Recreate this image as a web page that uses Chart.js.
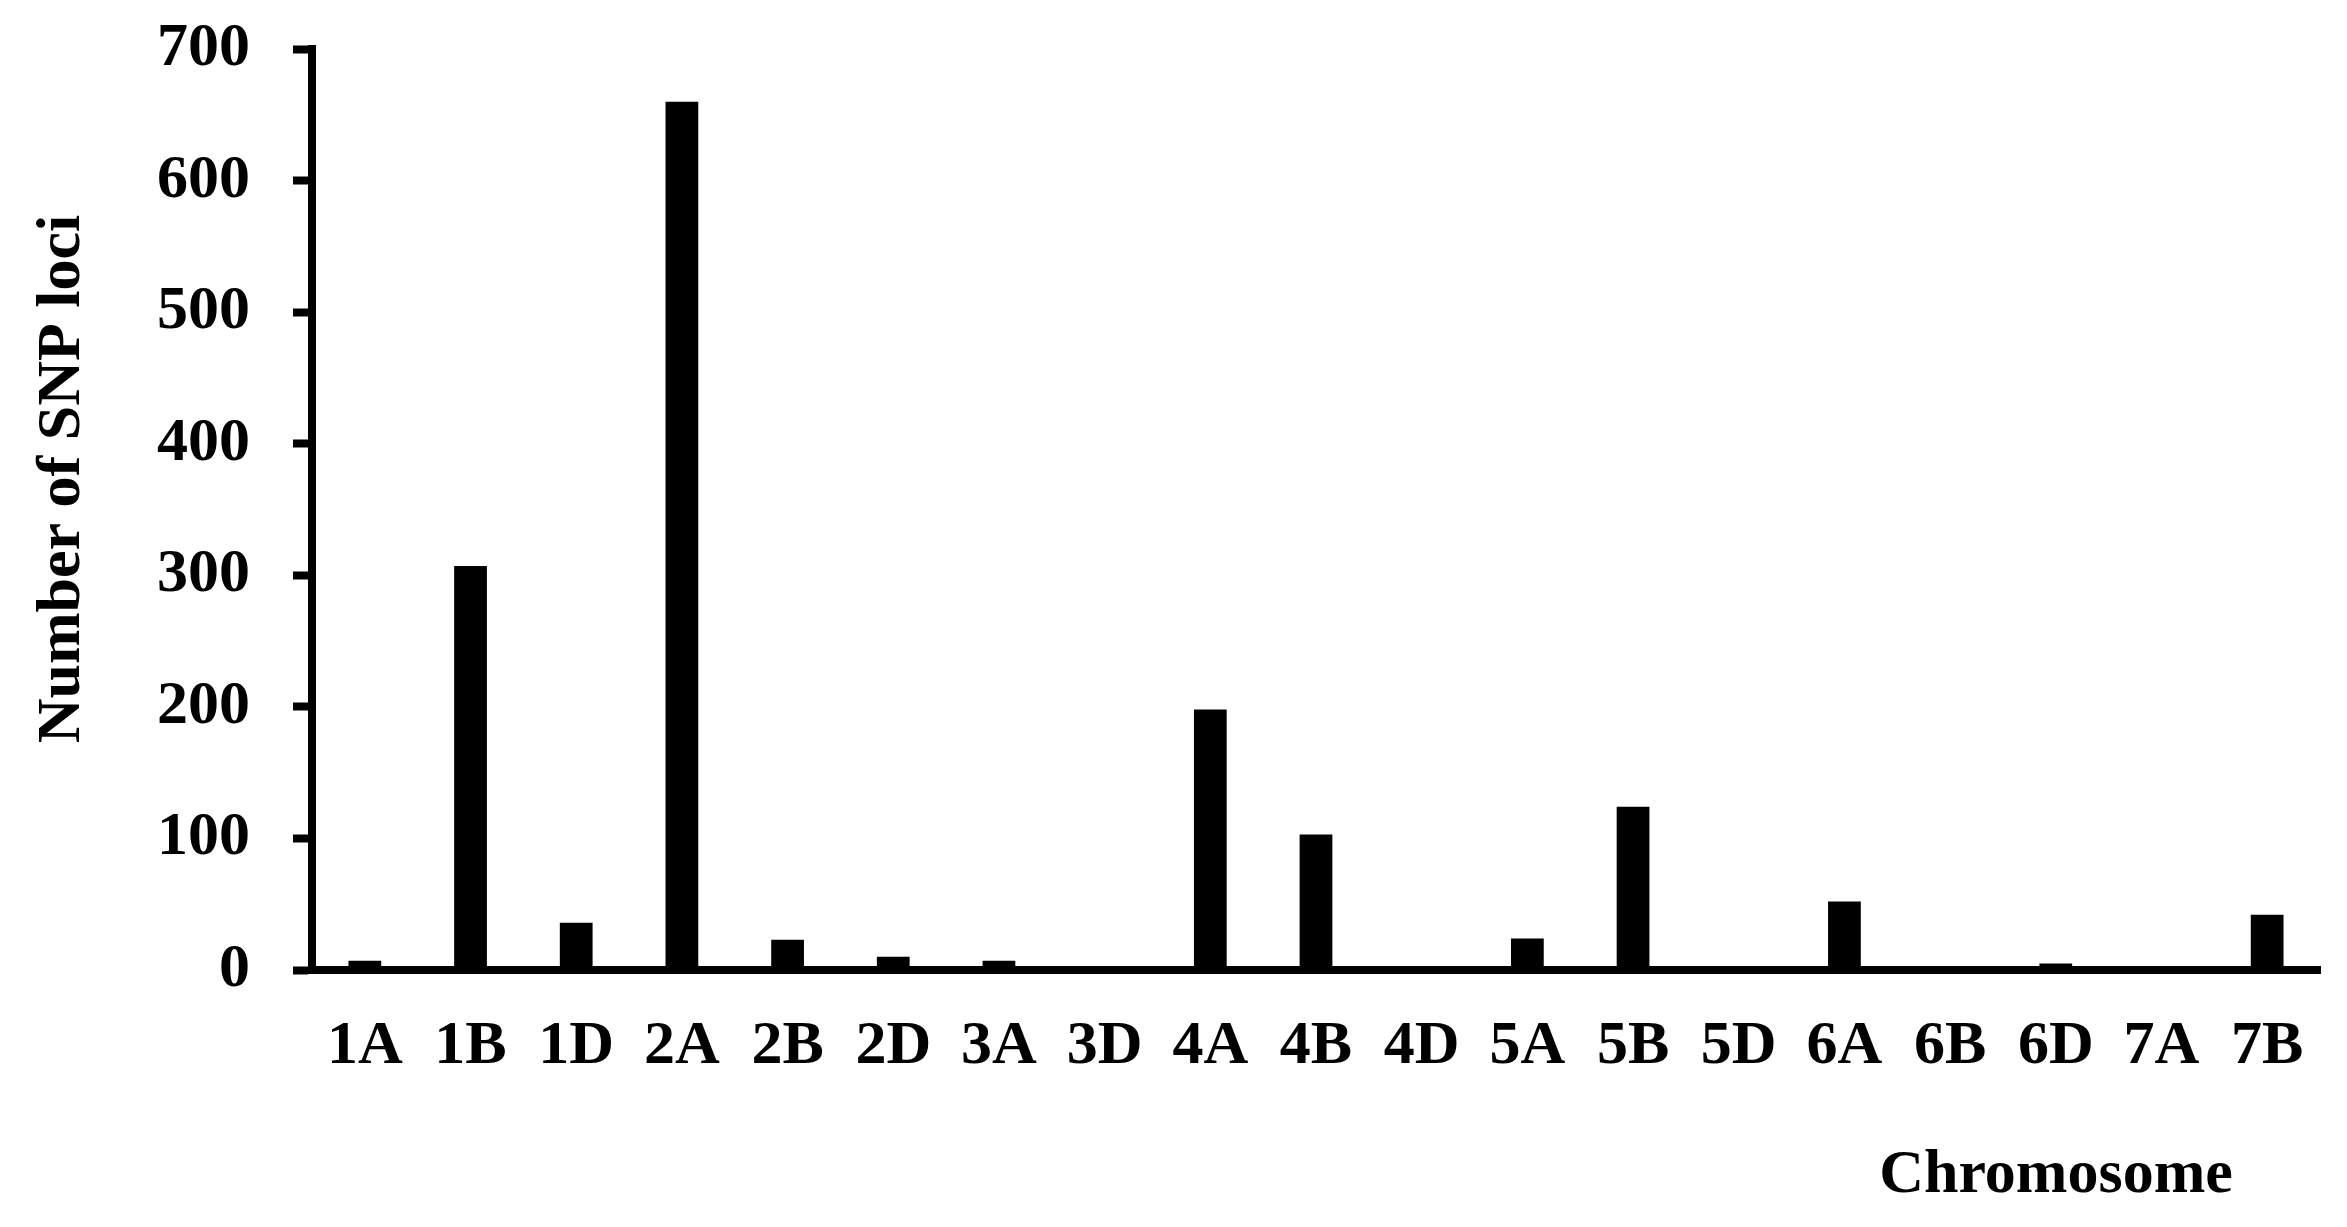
<!DOCTYPE html>
<html>
<head>
<meta charset="utf-8">
<script src="https://cdn.jsdelivr.net/npm/chart.js@4"></script>
<style>
html,body{margin:0;padding:0;background:#fff;}
#wrap{width:2347px;height:1227px;}
</style>
</head>
<body>
<div id="wrap"><canvas id="c" width="2347" height="1227"></canvas></div>
<script>
const categories = ["1A","1B","1D","2A","2B","2D","3A","3D","4A","4B","4D","5A","5B","5D","6A","6B","6D","7A","7B"];
const snpCounts = [7,307,36,660,23,10,7,0,198,103,0,24,124,0,52,0,5,0,42];
const yTicks = [0,100,200,300,400,500,600,700];
const yTitle = "Number of SNP loci";
const xTitle = "Chromosome";

const FONT = "'Liberation Serif','Times New Roman',serif";

const titlePlugin = {
  id: 'axisTitles',
  afterDraw(chart) {
    const ctx = chart.ctx;
    ctx.save();
    ctx.fillStyle = '#000';
    ctx.font = "bold 62px " + FONT;
    ctx.textAlign = 'center';
    ctx.textBaseline = 'alphabetic';
    ctx.fillText(xTitle, 2056, 1192);
    ctx.translate(79, 479);
    ctx.rotate(-Math.PI / 2);
    ctx.fillText(yTitle, 0, 0);
    ctx.restore();
  }
};

new Chart(document.getElementById('c'), {
  type: 'bar',
  data: {
    labels: categories,
    datasets: [{
      data: snpCounts,
      backgroundColor: '#000',
      borderWidth: 0,
      barPercentage: 0.31,
      categoryPercentage: 1.0
    }]
  },
  options: {
    responsive: false,
    devicePixelRatio: 1,
    animation: false,
    layout: { padding: { top: 49, right: 27, left: 0, bottom: 0 } },
    plugins: { legend: { display: false }, tooltip: { enabled: false } },
    scales: {
      x: {
        offset: true,
        grid: { display: false, drawTicks: false },
        border: { display: true, color: '#000', width: 8 },
        ticks: {
          color: '#000',
          font: { family: FONT, size: 62, weight: 'bold' },
          padding: 40,
          maxRotation: 0,
          autoSkip: false
        },
        afterFit(scale) {
          scale.height = 257;
          scale.paddingLeft = 0; scale.paddingRight = 0;
        }
      },
      y: {
        min: 0,
        max: 700,
        afterBuildTicks(scale) { scale.ticks = yTicks.map(v => ({ value: v })); },
        grid: { drawOnChartArea: false, drawTicks: true, tickLength: 19, tickWidth: 8, tickColor: '#000' },
        border: { display: true, color: '#000', width: 8 },
        ticks: {
          color: '#000',
          font: { family: FONT, size: 62, weight: 'bold' },
          padding: 43
        },
        afterFit(scale) {
          scale.width = 312;
          scale.paddingTop = 0; scale.paddingBottom = 0;
        }
      }
    }
  },
  plugins: [titlePlugin]
});
</script>
</body>
</html>
